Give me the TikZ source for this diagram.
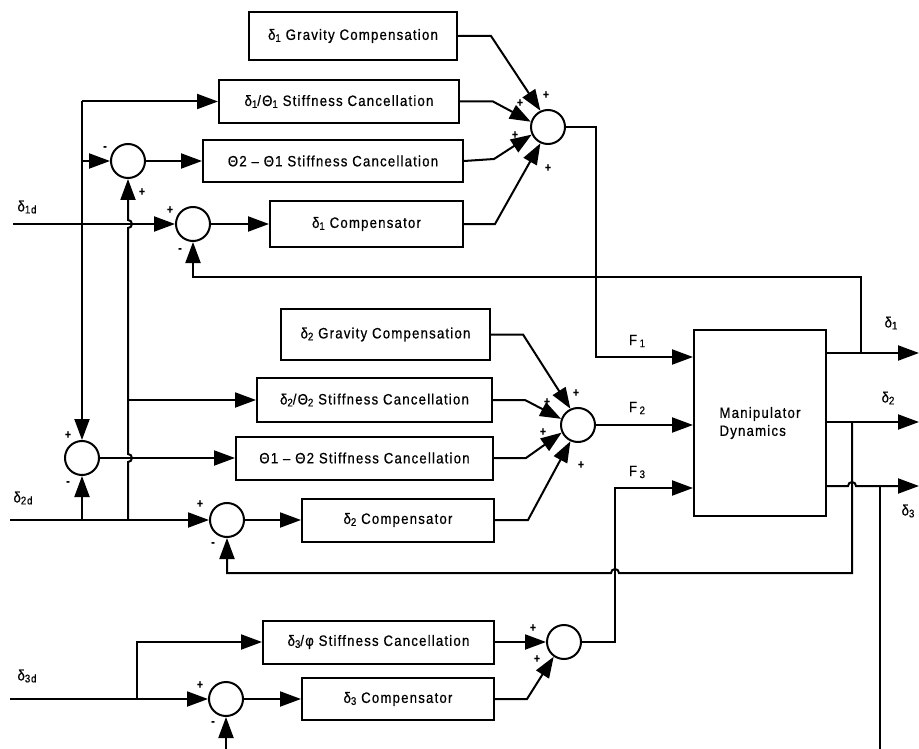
\documentclass[tikz,border=0pt]{standalone}
\usepackage{fontspec}
\setmainfont{Liberation Sans}[LetterSpace=8,FakeStretch=0.88,FakeBold=0.6]
\usetikzlibrary{arrows.meta}
\newcommand{\dsub}[1]{\raisebox{-0.25ex}{\fontsize{11}{11}\selectfont #1}}
\tikzset{
  ln/.style={line width=2pt},
  arr/.style={line width=2pt, -{Triangle[length=21pt,width=15pt]}},
  blk/.style={draw, line width=2pt, inner sep=0pt, font=\fontsize{15}{17}\selectfont},
  sumc/.style={draw, circle, line width=2pt, minimum size=34pt, inner sep=0pt},
  sgn/.style={font=\fontsize{12}{12}\selectfont\bfseries, inner sep=0pt},
  lbl/.style={font=\fontsize{15}{15}\selectfont, inner sep=0pt},
}
\begin{document}
\begin{tikzpicture}[x=1pt,y=-1pt]
\useasboundingbox (0,0) rectangle (919,749);
% ---- blocks
\node[blk, minimum width=208pt, minimum height=48pt] (g1)  at (353,36)    {δ\dsub{1} Gravity Compensation};
\node[blk, minimum width=240pt, minimum height=43pt] (s11) at (339,101.5) {δ\dsub{1}/Θ\dsub{1} Stiffness Cancellation};
\node[blk, minimum width=260pt, minimum height=42pt] (s21) at (333,161)   {Θ2 – Θ1 Stiffness Cancellation};
\node[blk, minimum width=193pt, minimum height=45pt] (c1)  at (366.5,224) {δ\dsub{1} Compensator};
\node[blk, minimum width=209pt, minimum height=51pt] (g2)  at (385.5,334.5) {δ\dsub{2} Gravity Compensation};
\node[blk, minimum width=235pt, minimum height=44pt] (s22) at (374.5,400) {δ\dsub{2}/Θ\dsub{2} Stiffness Cancellation};
\node[blk, minimum width=257pt, minimum height=43pt] (s12) at (364.5,458) {Θ1 – Θ2 Stiffness Cancellation};
\node[blk, minimum width=192pt, minimum height=43pt] (c2)  at (398,520)   {δ\dsub{2} Compensator};
\node[blk, minimum width=231pt, minimum height=43pt] (s3)  at (378.5,642) {δ\dsub{3}/φ Stiffness Cancellation};
\node[blk, minimum width=192pt, minimum height=42pt] (c3)  at (398,699)   {δ\dsub{3} Compensator};
\node[blk, minimum width=132pt, minimum height=186pt, align=left] (md) at (760,423) {Manipulator\\[1pt]Dynamics};
% ---- summing junctions
\node[sumc] (S1) at (548,127) {};
\node[sumc] (A)  at (128,161) {};
\node[sumc] (B)  at (193,224) {};
\node[sumc] (D)  at (82,458)  {};
\node[sumc] (S2) at (578,425) {};
\node[sumc] (C)  at (227,520) {};
\node[sumc] (S3) at (564,642) {};
\node[sumc] (G)  at (226,699) {};
% ---- coordinates
\coordinate (in1) at (13,224);
\coordinate (in2) at (10,520);
\coordinate (in3) at (10,699);
\coordinate (j1) at (82,224);
\coordinate (j2) at (82,520);
\coordinate (j3) at (128,520);
\coordinate (j4) at (128,400);
\coordinate (j5) at (137,699);
\coordinate (p1) at (596,357);
\coordinate (p3) at (615,488);
\coordinate (o1) at (919,353);
\coordinate (o2) at (919,422);
\coordinate (o3) at (919,486);
\coordinate (f1) at (861,353);
\coordinate (f2) at (852,422);
\coordinate (f3) at (880,486);
\coordinate (b3) at (880,749);
\coordinate (bg) at (226,749);
% ---- inputs, top part
\draw[arr] (in1) -- (B.west);
\draw[ln] (j1) -- (j1 |- s11.west);
\draw[arr] (j1 |- s11.west) -- (s11.west);
\draw[arr] (j1 |- A.west) -- (A.west);
\draw[arr] (j1) -- (D.north);
\draw[arr] (A.east) -- (s21.west);
\draw[arr] (B.east) -- (c1.west);
\draw[arr] (j3) -- (128,462) arc[start angle=90,end angle=-90,radius=4] -- (128,228) arc[start angle=90,end angle=-90,radius=4] -- (A.south);
\draw[arr] (j4) -- (s22.west);
% ---- inputs, middle part
\draw[arr] (in2) -- (C.west);
\draw[arr] (j2) -- (D.south);
\draw[arr] (D.east) -- (s12.west);
\draw[arr] (C.east) -- (c2.west);
% ---- inputs, bottom part
\draw[arr] (in3) -- (G.west);
\draw[arr] (j5) |- (s3.west);
\draw[arr] (G.east) -- (c3.west);
\draw[arr] (bg) -- (G.south);
% ---- into the sums
\draw[arr] (g1.east) -- ++(33,0) -- (S1.115);
\draw[arr] (s11.east) -- ++(33,0) -- (S1.163);
\draw[arr] (s21.east) -- ++(30,-2) -- (S1.205);
\draw[arr] (c1.east) -- ++(31,0) -- (S1.245);
\draw[arr] (g2.east) -- ++(32,0) -- (S2.115);
\draw[arr] (s22.east) -- ++(32,0) -- (S2.160);
\draw[arr] (s12.east) -- ++(32,0) -- (S2.205);
\draw[arr] (c2.east) -- ++(33,0) -- (S2.245);
\draw[arr] (s3.east) -- (S3.west);
\draw[arr] (c3.east) -- ++(32,0) -- (S3.235);
% ---- forces
\draw[arr] (S1.east) -| (p1) -- (p1 -| md.west);
\draw[arr] (S2.east) -- (S2.east -| md.west);
\draw[arr] (S3.east) -| (p3) -- (p3 -| md.west);
% ---- outputs
\draw[arr] (md.east |- o1) -- (o1);
\draw[arr] (md.east |- o2) -- (o2);
\draw[arr] (md.east |- o3) -- (848,486) arc[start angle=180,end angle=360,radius=4] -- (o3);
% ---- feedback
\draw[arr] (f1) -- (861,277) -| (B.south);
\draw[arr] (f2) -- (852,573) -- (619,573) arc[start angle=0,end angle=-180,radius=4] -| (C.south);
\draw[ln] (f3) -- (b3);
% ---- signs
\node[sgn] at (546,95) {+};
\node[sgn] at (520,103) {+};
\node[sgn] at (515,135) {+};
\node[sgn] at (548,168) {+};
\node[sgn] at (576,393) {+};
\node[sgn] at (547,402) {+};
\node[sgn] at (543,432) {+};
\node[sgn] at (581,465) {+};
\node[sgn] at (533,628) {+};
\node[sgn] at (537,659) {+};
\node[sgn] at (105,148) {-};
\node[sgn] at (142,192) {+};
\node[sgn] at (170,210) {+};
\node[sgn] at (180,250) {-};
\node[sgn] at (68,435) {+};
\node[sgn] at (68,483) {-};
\node[sgn] at (200,504) {+};
\node[sgn] at (213,544) {-};
\node[sgn] at (200,685) {+};
\node[sgn] at (213,723) {-};
% ---- labels
\node[lbl] at (27,207) {δ\dsub{1d}};
\node[lbl] at (23,498) {δ\dsub{2d}};
\node[lbl] at (27,676) {δ\dsub{3d}};
\node[lbl] at (637,341) {F\,\dsub{1}};
\node[lbl] at (637,408) {F\,\dsub{2}};
\node[lbl] at (637,472) {F\,\dsub{3}};
\node[lbl] at (891,323) {δ\dsub{1}};
\node[lbl] at (888,398) {δ\dsub{2}};
\node[lbl] at (908,511) {δ\dsub{3}};
\end{tikzpicture}
\end{document}
